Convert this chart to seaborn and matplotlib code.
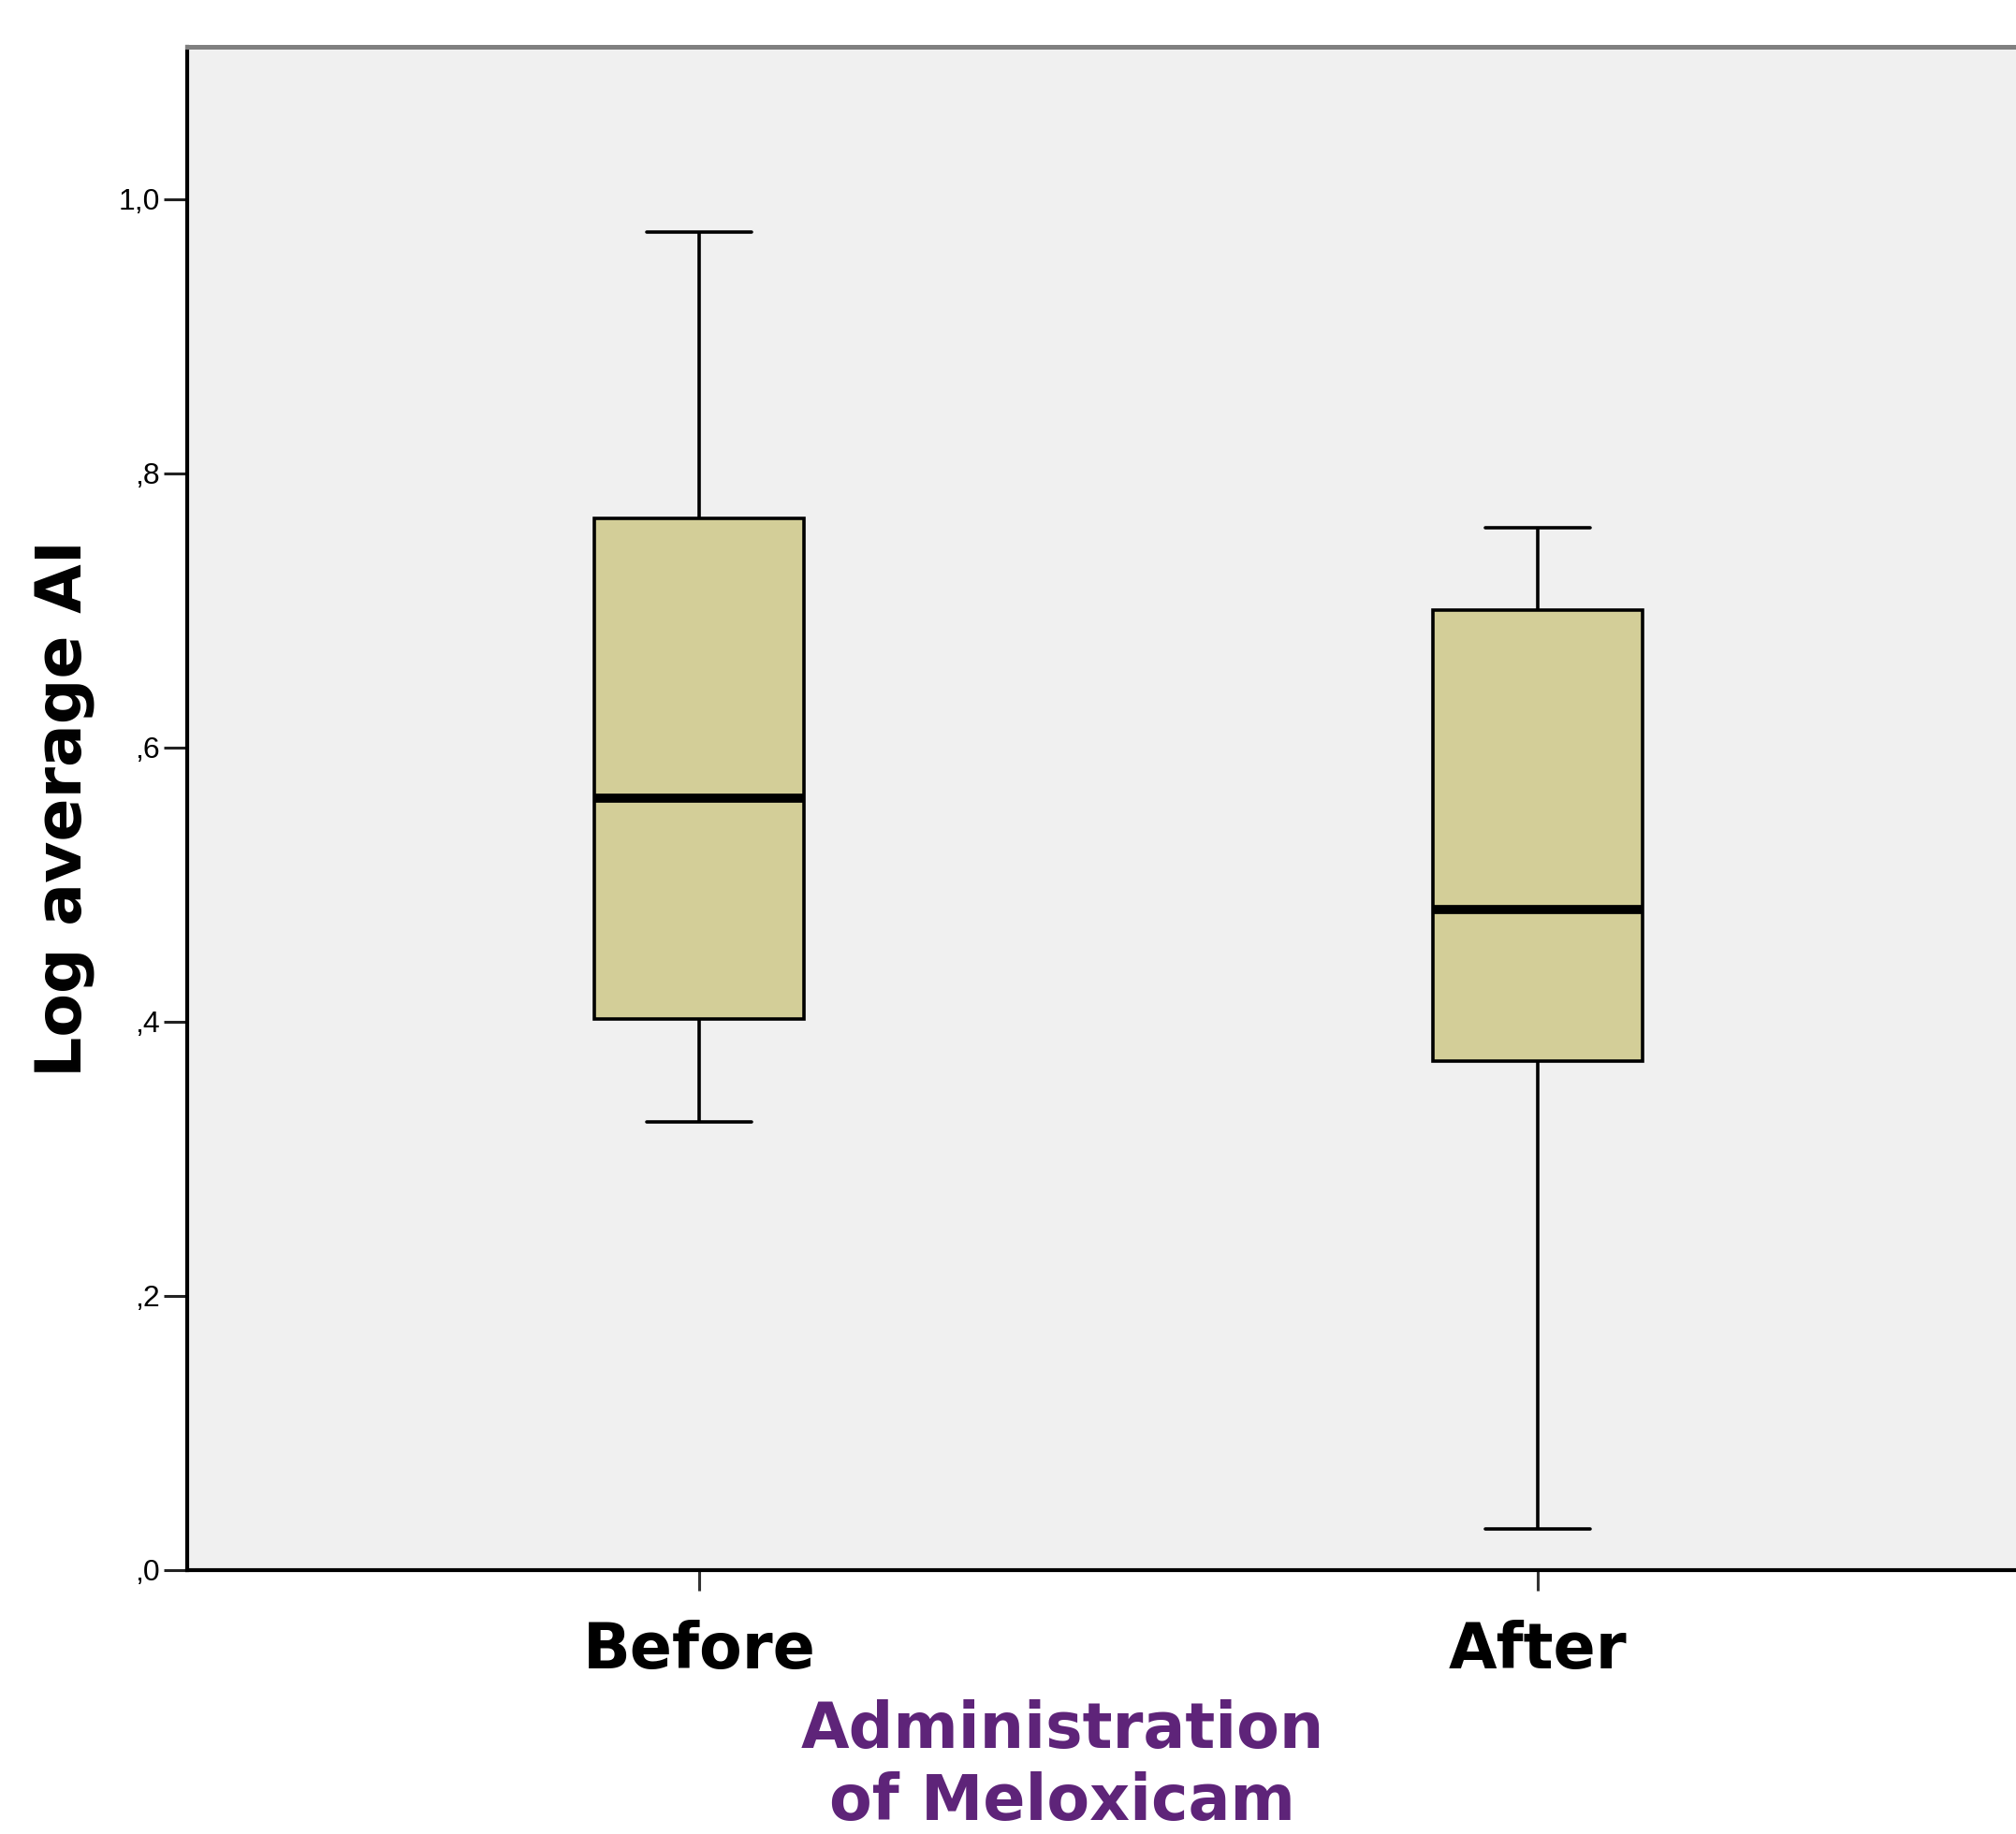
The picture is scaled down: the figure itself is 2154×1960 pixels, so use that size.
import pandas as pd
import numpy as np
import matplotlib.pyplot as plt
import seaborn as sns

# five-number summaries (min, q1, median, q3, max)
groups = ['Before', 'After']
before_vals = [0.327, 0.402, 0.563, 0.767, 0.976]
after_vals = [0.030, 0.371, 0.482, 0.700, 0.760]
ytick_vals = [0.0, 0.2, 0.4, 0.6, 0.8, 1.0]
ytick_labels = [',0', ',2', ',4', ',6', ',8', '1,0']

df = pd.DataFrame({
    'group': ['Before'] * len(before_vals) + ['After'] * len(after_vals),
    'value': before_vals + after_vals,
})

sns.set_style('white')
plt.rcParams['font.family'] = ['DejaVu Sans']

fig = plt.figure(figsize=(21.54, 19.6), dpi=100)
ax = fig.add_axes([0.0929, 0.1439, 0.9071, 0.8306])
ax.set_facecolor('#F0F0F0')

lw = 2.6
sns.boxplot(data=df, x='group', y='value', order=groups, ax=ax,
            width=0.25, whis=1.5, color='#D3CE98', saturation=1,
            linewidth=lw, linecolor='black', fliersize=0,
            boxprops=dict(edgecolor='black', linewidth=lw),
            whiskerprops=dict(color='black', linewidth=lw),
            capprops=dict(color='black', linewidth=lw),
            medianprops=dict(color='black', linewidth=7))

ax.set_xlim(-0.61, 1.57)
ax.set_ylim(0, 1.111)
ax.set_yticks(ytick_vals)
ax.set_yticklabels(ytick_labels, fontfamily='Liberation Sans', fontsize=23, color='black')
ax.tick_params(axis='y', direction='out', length=18, width=2.2, color='#222222', pad=3, left=True)
ax.tick_params(axis='x', direction='out', length=16, width=2.2, color='#333333', pad=22, bottom=True)
for lab in ax.get_xticklabels():
    lab.set_fontsize(48)
    lab.set_fontweight('bold')
    lab.set_color('black')

for s in ['left', 'bottom']:
    ax.spines[s].set_color('black')
    ax.spines[s].set_linewidth(3)
ax.spines['top'].set_color('#808080')
ax.spines['top'].set_linewidth(3.6)
ax.spines['right'].set_visible(False)

ax.set_ylabel('Log average AI', fontsize=49, fontweight='bold', color='black', labelpad=18)
ax.set_xlabel('Administration\nof Meloxicam', fontsize=48, fontweight='bold', color='#5E2479')
ax.xaxis.set_label_coords(0.4786, -0.085)
ax.xaxis.label.set_va('top')

fig.savefig('out.png', dpi=100)
